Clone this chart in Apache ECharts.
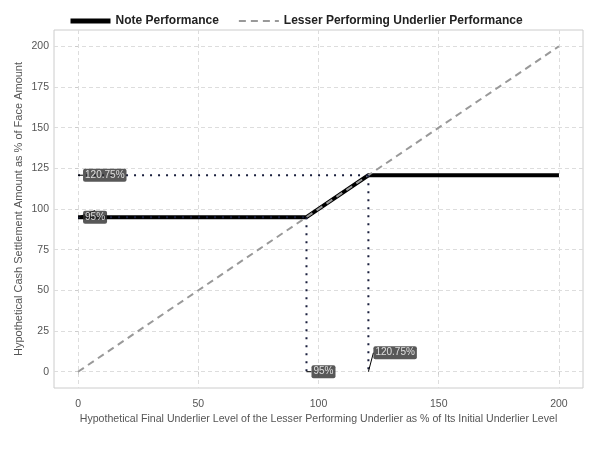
<!DOCTYPE html>
<html>
<head>
<meta charset="utf-8">
<script src="https://cdn.jsdelivr.net/npm/echarts@6/dist/echarts.min.js"></script>
<style>
  html, body { margin: 0; padding: 0; background: #fff; }
  #chart { width: 600px; height: 450px; }
</style>
</head>
<body>
<div id="chart"></div>
<script>
// payoff points (underlier level %, payout %)
const notePoints = [[0, 95], [95, 95], [120.75, 120.75], [200, 120.75]]
const underlierPoints = [[0, 0], [200, 200]]
const threshold = 95
const cap = 120.75
const xTicks = [0, 50, 100, 150, 200]
const yTicks = [0, 25, 50, 75, 100, 125, 150, 175, 200]
// label anchors: [x, y, text]
const tagPoints = [
  [0, cap, '120.75%'],
  [0, threshold, '95%'],
  [threshold, 0, '95%'],
  [cap, 0, '120.75%']
]

const fontFam = '"Liberation Sans", Arial, sans-serif'
const chart = echarts.init(document.getElementById('chart'))

// dotted guide segment
function guide (pts) {
  return {
    type: 'line',
    data: pts,
    symbol: 'none',
    silent: true,
    z: 5,
    lineStyle: { color: '#1a1f3d', width: 2, type: [2, 6], cap: 'butt' }
  }
}

const labelSeries = tagPoints.map(function (p, i) {
  return {
    type: 'scatter',
    data: [[p[0], p[1]]],
    symbolSize: 0,
    z: 10,
    label: {
      show: true,
      position: 'right',
      distance: 0,
      formatter: p[2],
      color: '#fff',
      fontSize: 10,
      fontFamily: fontFam,
      backgroundColor: '#2e2e2e',
      borderRadius: 2,
      padding: [2, 2, 1, 2]
    },
    labelLayout: i === 3 ? { dx: 5, dy: -19 } : { dx: 5 },
    labelLine: { show: true, lineStyle: { color: '#000', width: 1 } }
  }
})

const axisCommon = {
  type: 'value',
  min: -10,
  max: 210,
  axisLine: { show: false },
  axisLabel: { color: '#555', fontSize: 10.5, fontFamily: fontFam },
  axisTick: { show: true, length: 3, lineStyle: { color: '#ccc' } },
  splitLine: { show: true, lineStyle: { color: '#ddd', type: [4, 3] } },
  nameLocation: 'middle',
  nameMoveOverlap: false,
  nameTextStyle: { color: '#555', fontSize: 10.6, fontFamily: fontFam }
}

const option = {
  animation: false,
  grid: {
    left: 54, right: 17, top: 30, bottom: 62,
    show: true, borderColor: '#ccc', borderWidth: 1
  },
  legend: {
    top: 10,
    left: 63,
    itemWidth: 40,
    itemHeight: 10,
    itemGap: 19,
    itemStyle: { opacity: 0 },
    data: [
      { name: 'Note Performance', lineStyle: { width: 5 } },
      { name: 'Lesser Performing Underlier Performance', lineStyle: { width: 2 } }
    ],
    textStyle: { color: '#222', fontSize: 12, fontWeight: 'bold', fontFamily: fontFam }
  },
  xAxis: Object.assign({}, axisCommon, {
    name: 'Hypothetical Final Underlier Level of the Lesser Performing Underlier as % of Its Initial Underlier Level',
    nameGap: 26,
    axisLabel: Object.assign({}, axisCommon.axisLabel, { customValues: xTicks, margin: 11 }),
    axisTick: Object.assign({}, axisCommon.axisTick, { customValues: xTicks }),
    splitLine: Object.assign({}, axisCommon.splitLine, { customValues: xTicks })
  }),
  yAxis: Object.assign({}, axisCommon, {
    name: 'Hypothetical Cash Settlement Amount as % of Face Amount',
    nameGap: 30,
    nameTextStyle: Object.assign({}, axisCommon.nameTextStyle, { fontSize: 11 }),
    axisLabel: Object.assign({}, axisCommon.axisLabel, { customValues: yTicks, margin: 5 }),
    axisTick: Object.assign({}, axisCommon.axisTick, { customValues: yTicks }),
    splitLine: Object.assign({}, axisCommon.splitLine, { customValues: yTicks })
  }),
  series: [
    {
      name: 'Note Performance',
      type: 'line',
      data: notePoints,
      symbol: 'none',
      z: 3,
      color: '#000',
      lineStyle: { color: '#000', width: 4 }
    },
    {
      name: 'Lesser Performing Underlier Performance',
      type: 'line',
      data: underlierPoints,
      symbol: 'none',
      z: 4,
      color: '#999',
      lineStyle: { color: '#999', width: 2, type: [7, 5] }
    },
    guide([[0, cap], [cap, cap]]),
    guide([[cap, cap], [cap, 0]]),
    guide([[0, threshold], [threshold, threshold]]),
    guide([[threshold, threshold], [threshold, 0]])
  ].concat(labelSeries)
}

chart.setOption(option)
</script>
</body>
</html>
